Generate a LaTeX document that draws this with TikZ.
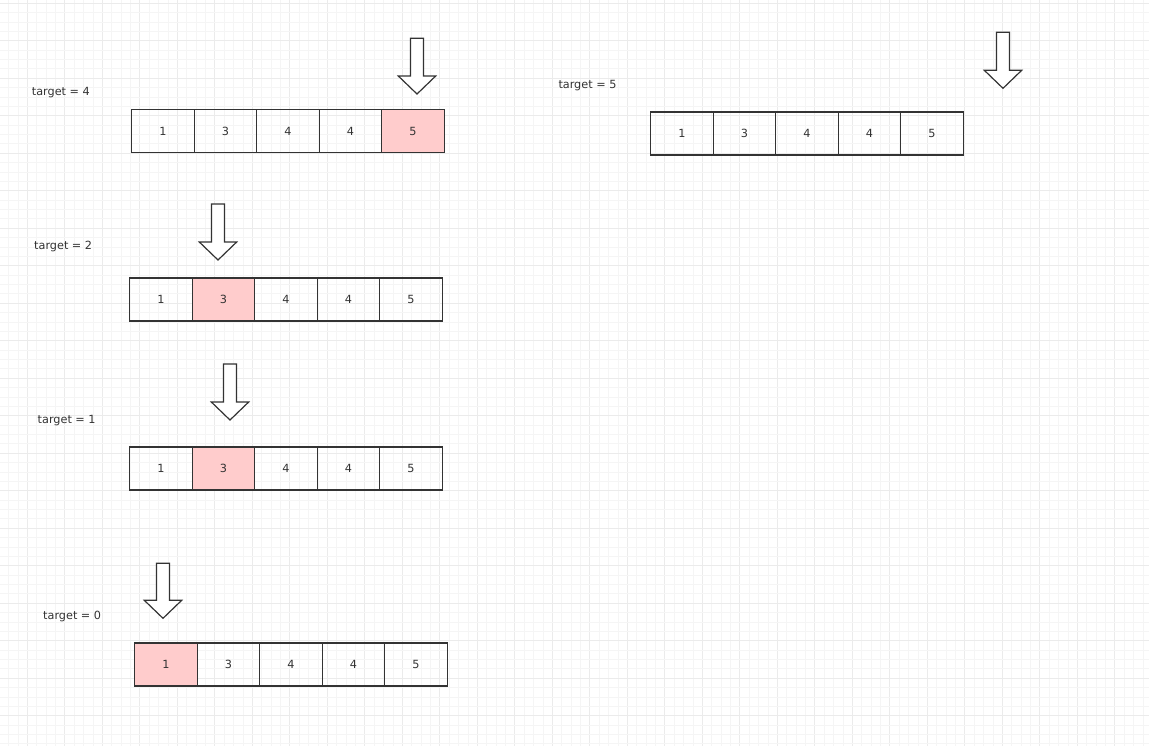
\documentclass[tikz,border=0pt]{standalone}
\usepackage{fontspec}
\setmainfont{DejaVu Sans}
\definecolor{ink}{HTML}{333333}
\definecolor{pinkcell}{HTML}{FFCCCC}
\definecolor{gridminor}{HTML}{F5F5F5}
\definecolor{gridmajor}{HTML}{EBEBEB}
\newcommand{\dnarrow}[3]{% center x, top y, tip y
  \draw[arrowshape] (#1-6.5,#2) -- (#1+6.5,#2) -- (#1+6.5,#3-18) -- (#1+18.7,#3-18)
    -- (#1,#3) -- (#1-18.7,#3-18) -- (#1-6.5,#3-18) -- cycle;}
\begin{document}
\begin{tikzpicture}[x=1pt,y=-1pt,
  minorline/.style={draw=gridminor,line width=0.8pt},
  majorline/.style={draw=gridmajor,line width=0.9pt},
  cell/.style={draw=ink,line width=1.2pt,minimum width=62.5pt,minimum height=43pt,
    inner sep=0pt,anchor=west,font=\fontsize{11.25}{13}\selectfont,text=ink},
  pinked/.style={fill=pinkcell},
  lbl/.style={anchor=base west,inner sep=0pt,font=\fontsize{11.25}{13}\selectfont,text=ink},
  arrowshape/.style={draw=ink,line width=1.2pt,fill=white,line join=miter}]
\useasboundingbox[fill=white] (0,0) rectangle (1149,746);
% grid
\foreach \i in {0,...,123}{
  \pgfmathsetmacro\gx{-0.825+9.375*\i}
  \pgfmathtruncatemacro\m{mod(\i,4)}
  \ifnum\m=3 \draw[majorline] (\gx,0) -- (\gx,746);
  \else \draw[minorline] (\gx,0) -- (\gx,746); \fi
}
\foreach \j in {0,...,79}{
  \pgfmathsetmacro\gy{3.2+9.375*\j}
  \pgfmathtruncatemacro\m{mod(\j,4)}
  \ifnum\m=0 \draw[majorline] (0,\gy) -- (1149,\gy);
  \else \draw[minorline] (0,\gy) -- (1149,\gy); \fi
}
% rows: name / left x / centre y / highlighted cell
\foreach \r/\x/\y/\p in {a/131/131/5, b/129/299.5/2, c/129/468.5/2, d/134/664.5/1, e/650/133.5/0}{
  \foreach \v [count=\k] in {1,3,4,4,5}{
    \ifnum\k=\p
      \node[cell,pinked] (\r\k) at (\x+62.5*\k-62.5,\y) {\v};
    \else
      \node[cell] (\r\k) at (\x+62.5*\k-62.5,\y) {\v};
    \fi
  }
}
% labels
\node[lbl] (la) at (31.7,96) {target = 4};
\node[lbl] (lb) at (34,249.5) {target = 2};
\node[lbl] (lc) at (37.5,423.5) {target = 1};
\node[lbl] (ld) at (43,619.5) {target = 0};
\node[lbl] (le) at (558.3,89) {target = 5};
% pointer arrows
\dnarrow{417}{38.3}{94}
\dnarrow{218}{204}{260}
\dnarrow{230}{364}{420}
\dnarrow{163}{563.3}{618.3}
\dnarrow{1003}{32.3}{88.3}
\end{tikzpicture}
\end{document}
